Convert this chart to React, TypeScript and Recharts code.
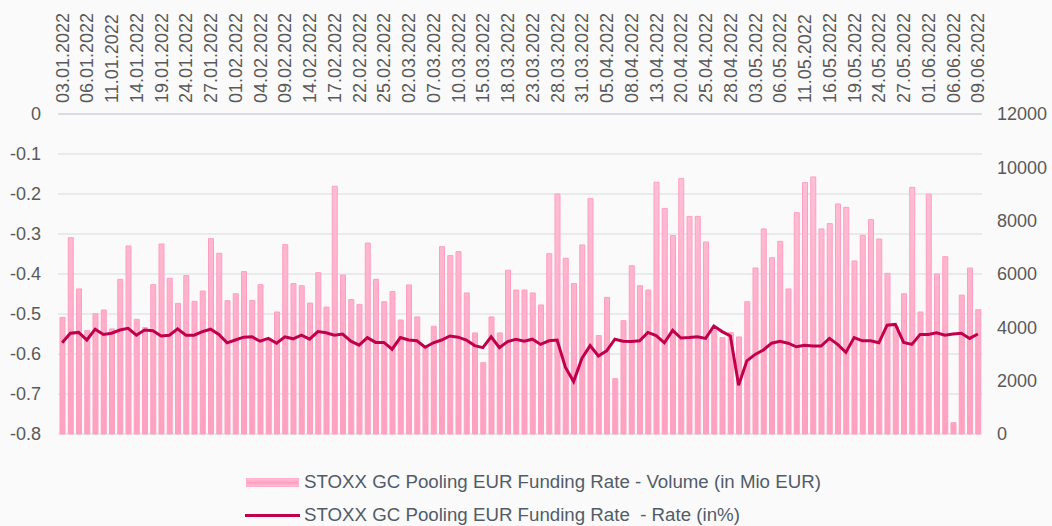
import { ComposedChart, Bar, Line, XAxis, YAxis, CartesianGrid } from 'recharts';

const dates = [
  '03.01.2022', '04.01.2022', '05.01.2022', '06.01.2022', '07.01.2022', '10.01.2022', '11.01.2022', '12.01.2022',
  '13.01.2022', '14.01.2022', '17.01.2022', '18.01.2022', '19.01.2022', '20.01.2022', '21.01.2022', '24.01.2022',
  '25.01.2022', '26.01.2022', '27.01.2022', '28.01.2022', '31.01.2022',
  '01.02.2022', '02.02.2022', '03.02.2022', '04.02.2022', '07.02.2022', '08.02.2022', '09.02.2022', '10.02.2022',
  '11.02.2022', '14.02.2022', '15.02.2022', '16.02.2022', '17.02.2022', '18.02.2022', '21.02.2022', '22.02.2022',
  '23.02.2022', '24.02.2022', '25.02.2022', '28.02.2022',
  '01.03.2022', '02.03.2022', '03.03.2022', '04.03.2022', '07.03.2022', '08.03.2022', '09.03.2022', '10.03.2022',
  '11.03.2022', '14.03.2022', '15.03.2022', '16.03.2022', '17.03.2022', '18.03.2022', '21.03.2022', '22.03.2022',
  '23.03.2022', '24.03.2022', '25.03.2022', '28.03.2022', '29.03.2022', '30.03.2022', '31.03.2022',
  '01.04.2022', '04.04.2022', '05.04.2022', '06.04.2022', '07.04.2022', '08.04.2022', '11.04.2022', '12.04.2022',
  '13.04.2022', '14.04.2022', '19.04.2022', '20.04.2022', '21.04.2022', '22.04.2022', '25.04.2022', '26.04.2022',
  '27.04.2022', '28.04.2022', '29.04.2022',
  '02.05.2022', '03.05.2022', '04.05.2022', '05.05.2022', '06.05.2022', '09.05.2022', '10.05.2022', '11.05.2022',
  '12.05.2022', '13.05.2022', '16.05.2022', '17.05.2022', '18.05.2022', '19.05.2022', '20.05.2022', '23.05.2022',
  '24.05.2022', '25.05.2022', '26.05.2022', '27.05.2022', '30.05.2022', '31.05.2022',
  '01.06.2022', '02.06.2022', '03.06.2022', '06.06.2022', '07.06.2022', '08.06.2022', '09.06.2022',
];

// Volume in Mio EUR (right axis)
const volume = [
  4375, 7360, 5440, 3875, 4510, 4650, 3940, 5800, 7050, 4300, 3990, 5600, 7125, 5840, 4900, 5940,
  4975, 5360, 7325, 6775, 5000,
  5260, 6090, 5010, 5600, 3500, 4575, 7100, 5640, 5560, 4910, 6050, 4760, 9290, 5960, 5040, 4860,
  7160, 5800, 4960, 5340,
  4275, 5590, 4390, 3300, 4040, 7025, 6690, 6840, 5290, 3790, 2675, 4390, 3790, 6140, 5400, 5400,
  5290, 4840, 6760, 9000, 6590, 5640, 7090,
  8825, 3690, 5125, 2075, 4250, 6310, 5560, 5400, 9440, 8460, 7440, 9575, 8160, 8160, 7200, 3900,
  3610, 3800, 3640,
  4960, 6225, 7690, 6610, 7225, 5440, 8300, 9425, 9640, 7690, 7890, 8625, 8500, 6490, 7450, 8040,
  7310, 6025, 4025, 5260, 9250, 4575,
  8990, 6000, 6650, 425, 5210, 6225, 4660,
];

// Rate in % (left axis)
const rate = [
  -0.572, -0.548, -0.546, -0.565, -0.538, -0.551, -0.548, -0.540, -0.536, -0.553, -0.540, -0.542, -0.555, -0.553, -0.537, -0.553,
  -0.553, -0.544, -0.538, -0.551, -0.572,
  -0.565, -0.558, -0.557, -0.568, -0.561, -0.573, -0.557, -0.562, -0.553, -0.563, -0.544, -0.547, -0.553, -0.550, -0.568, -0.578,
  -0.559, -0.571, -0.571, -0.588,
  -0.559, -0.565, -0.567, -0.583, -0.572, -0.565, -0.555, -0.558, -0.565, -0.579, -0.584, -0.557, -0.584, -0.569, -0.563, -0.568,
  -0.563, -0.576, -0.567, -0.565, -0.633, -0.669, -0.611,
  -0.579, -0.605, -0.592, -0.563, -0.568, -0.569, -0.567, -0.546, -0.554, -0.572, -0.541, -0.560, -0.559, -0.557, -0.561, -0.530,
  -0.544, -0.555, -0.678,
  -0.617, -0.601, -0.590, -0.573, -0.568, -0.573, -0.582, -0.578, -0.580, -0.580, -0.561, -0.576, -0.596, -0.559, -0.567, -0.567,
  -0.572, -0.528, -0.526, -0.571, -0.576, -0.551,
  -0.551, -0.547, -0.553, -0.550, -0.548, -0.561, -0.550,
];

const rateTicks = [0, -0.1, -0.2, -0.3, -0.4, -0.5, -0.6, -0.7, -0.8];
const volumeTicks = [0, 2000, 4000, 6000, 8000, 10000, 12000];

const data = dates.map((date, i) => ({ date, volume: volume[i], rate: rate[i] }));
const boundaryTicks = dates.map((_, i) => i).concat(dates.length);

const FONT = '"Liberation Sans", Arial, sans-serif';
const TEXT = '#595959';
const GRID = '#e2e5e9';

const DateTick = (props: any) => {
  const { x, y, payload } = props;
  return (
    <text
      x={x}
      y={y}
      dy="0.36em"
      transform={`rotate(-90, ${x}, ${y})`}
      textAnchor="start"
      fontSize={18}
      fontFamily={FONT}
      fill={TEXT}
    >
      {payload.value}
    </text>
  );
};

export default function App() {
  return (
    <div
      style={{
        position: 'fixed',
        left: 0,
        top: 0,
        width: 1052,
        height: 526,
        background: '#fafafa',
        fontFamily: FONT,
        overflow: 'hidden',
      }}
    >
      <ComposedChart width={1052} height={460} data={data} margin={{ top: 0, right: 0, bottom: 26, left: 0 }}>
        <defs>
          <linearGradient id="volFill" gradientUnits="userSpaceOnUse" x1="0" y1="114" x2="0" y2="434">
            <stop offset="0%" stopColor="#ffc8dc" />
            <stop offset="100%" stopColor="#ffa0c1" />
          </linearGradient>
        </defs>
        <CartesianGrid yAxisId="rate" vertical={false} stroke={GRID} strokeWidth={1.5} />
        <XAxis
          dataKey="date"
          orientation="top"
          height={114}
          interval={2}
          tickSize={0}
          tickMargin={11}
          tickLine={false}
          axisLine={{ stroke: '#d6dadf', strokeWidth: 1.5 }}
          tick={<DateTick />}
        />
        <XAxis
          xAxisId="bounds"
          type="number"
          orientation="top"
          mirror
          domain={[0, dates.length]}
          allowDataOverflow
          ticks={boundaryTicks}
          interval={0}
          tick={false}
          axisLine={false}
          tickSize={4}
          tickLine={{ stroke: '#d6dadf' }}
        />
        <YAxis
          yAxisId="rate"
          width={58}
          domain={[-0.8, 0]}
          ticks={rateTicks}
          interval={0}
          tickSize={0}
          tickMargin={17}
          axisLine={false}
          tickLine={false}
          tick={{ fontSize: 18, fill: TEXT, fontFamily: FONT }}
          tickFormatter={(v: number) => (v === 0 ? '0' : String(v))}
        />
        <YAxis
          yAxisId="vol"
          orientation="right"
          width={70}
          domain={[0, 12000]}
          ticks={volumeTicks}
          interval={0}
          tickSize={0}
          tickMargin={15}
          axisLine={false}
          tickLine={false}
          tick={{ fontSize: 18, fill: TEXT, fontFamily: FONT, textAnchor: 'start' }}
        />
        <Bar
          yAxisId="vol"
          dataKey="volume"
          barSize={5}
          fill="url(#volFill)"
          stroke="#ff9fc0"
          strokeWidth={1}
          isAnimationActive={false}
        />
        <Line
          yAxisId="rate"
          dataKey="rate"
          type="linear"
          stroke="#c0004c"
          strokeWidth={3}
          dot={false}
          activeDot={false}
          isAnimationActive={false}
        />
      </ComposedChart>

      <div style={{ position: 'absolute', left: 246, top: 471, display: 'flex', alignItems: 'center' }}>
        <div
          style={{
            width: 53,
            height: 9,
            background: 'linear-gradient(#ffc2d7, #ff9dbf 55%, #ffc2d7)',
            border: '1px solid #ffb0ca',
            boxSizing: 'border-box',
            marginRight: 5,
          }}
        />
        <span style={{ fontSize: 18.7, color: '#525c68', whiteSpace: 'pre' }}>
          STOXX GC Pooling EUR Funding Rate - Volume (in Mio EUR)
        </span>
      </div>
      <div style={{ position: 'absolute', left: 245, top: 504, display: 'flex', alignItems: 'center' }}>
        <div style={{ width: 55, height: 3, background: '#c0004c', marginRight: 4 }} />
        <span style={{ fontSize: 18.7, color: '#525c68', whiteSpace: 'pre' }}>
          {'STOXX GC Pooling EUR Funding Rate  - Rate (in%)'}
        </span>
      </div>
    </div>
  );
}
